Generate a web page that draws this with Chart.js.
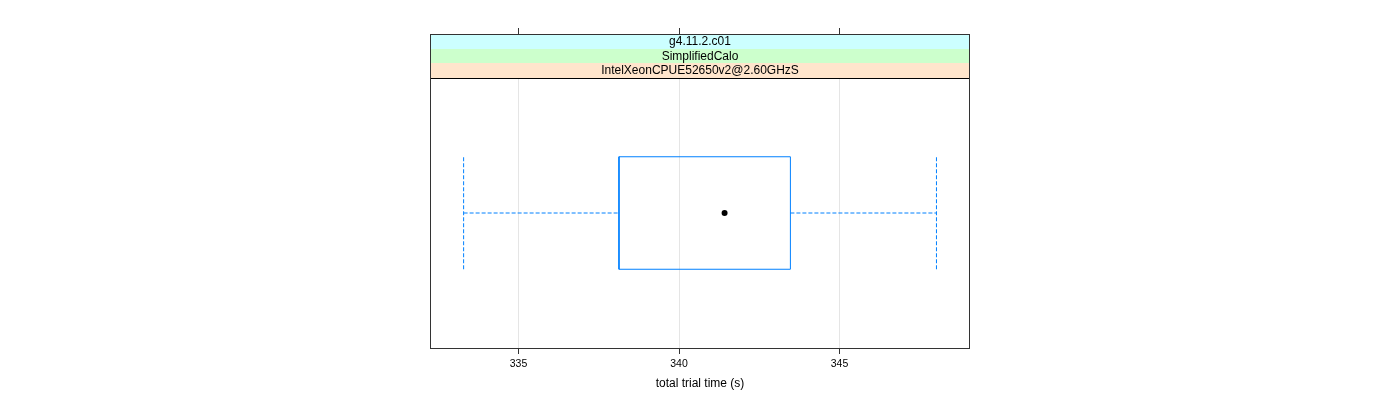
<!DOCTYPE html>
<html>
<head>
<meta charset="utf-8">
<script src="https://cdn.jsdelivr.net/npm/chart.js@4.4.0/dist/chart.umd.min.js"></script>
<style>
  body { margin: 0; background: #fff; }
  canvas { display: block; }
</style>
</head>
<body>
<canvas id="bwChart" width="1400" height="400"></canvas>
<script>
// strip labels, top to bottom
var strips = ['g4.11.2.c01', 'SimplifiedCalo', 'IntelXeonCPUE52650v2@2.60GHzS'];
var stripColors = ['#ccffff', '#ccffcc', '#ffe5cc'];
// lower whisker, q1, median, q3, upper whisker
var fiveNum = [333.29, 338.13, 341.42, 343.47, 348.02];
var xTicks = [335, 340, 345];
var xRange = [332.243, 349.065];
var level = 1;      // single box, sits at y = 1
var halfBox = 0.25;

Chart.defaults.font.family = '"Liberation Sans", Arial, sans-serif';
Chart.defaults.color = '#000';

var boxColor = '#0080ff';

function seg(points, dashed) {
  return {
    data: points,
    showLine: true,
    pointRadius: 0,
    borderColor: boxColor,
    borderWidth: 1,
    borderDash: dashed ? [4, 2] : [],
    fill: false
  };
}

var lo = fiveNum[0], q1 = fiveNum[1], med = fiveNum[2], q3 = fiveNum[3], hi = fiveNum[4];

var datasets = [
  seg([{x: q1, y: level - halfBox}, {x: q3, y: level - halfBox}, {x: q3, y: level + halfBox},
       {x: q1, y: level + halfBox}, {x: q1, y: level - halfBox}], false),
  seg([{x: lo, y: level}, {x: q1, y: level}], true),
  seg([{x: q3, y: level}, {x: hi, y: level}], true),
  seg([{x: lo, y: level - halfBox}, {x: lo, y: level + halfBox}], true),
  seg([{x: hi, y: level - halfBox}, {x: hi, y: level + halfBox}], true),
  {
    data: [{x: med, y: level}],
    pointRadius: 3,
    pointBackgroundColor: '#000',
    pointBorderWidth: 0
  }
];

// strips above the panel, frame and top ticks
var stripPlugin = {
  id: 'strips',
  afterDraw: function(chart) {
    var ctx = chart.ctx;
    var a = chart.chartArea;
    var xs = chart.scales.x;
    var h = 44 / strips.length;
    var top = a.top - 44;
    ctx.save();
    for (var i = 0; i < strips.length; i++) {
      var y0 = Math.round(top + i * h);
      var y1 = Math.round(top + (i + 1) * h);
      ctx.fillStyle = stripColors[i];
      ctx.fillRect(a.left, y0, a.right - a.left, y1 - y0);
      ctx.strokeStyle = '#000';
      ctx.lineWidth = 1;
      ctx.beginPath();
      ctx.moveTo(a.left, y1 + 0.5);
      ctx.lineTo(a.right, y1 + 0.5);
      ctx.stroke();
      ctx.fillStyle = '#000';
      ctx.font = '12px "Liberation Sans", Arial, sans-serif';
      ctx.textAlign = 'center';
      ctx.textBaseline = 'middle';
      ctx.fillText(strips[i], (a.left + a.right) / 2, (y0 + y1) / 2 + 0.5);
    }
    // frame
    ctx.strokeStyle = '#333';
    ctx.strokeRect(a.left + 0.5, top + 0.5, a.right - a.left - 1, a.bottom - top);
    // top ticks
    ctx.beginPath();
    xTicks.forEach(function(v) {
      var px = Math.floor(xs.getPixelForValue(v)) + 0.5;
      ctx.moveTo(px, top - 6);
      ctx.lineTo(px, top);
    });
    ctx.stroke();
    ctx.restore();
  }
};

new Chart(document.getElementById('bwChart'), {
  type: 'scatter',
  data: { datasets: datasets },
  options: {
    responsive: false,
    animation: false,
    layout: { padding: { left: 430, right: 430, top: 78, bottom: 0 }, autoPadding: false },
    scales: {
      x: {
        type: 'linear',
        min: xRange[0],
        max: xRange[1],
        afterBuildTicks: function(s) {
          s.ticks = xTicks.map(function(v) { return { value: v }; });
        },
        afterFit: function(s) { s.height = 52; },
        grid: { color: '#e5e5e5', tickColor: '#333', tickLength: 6 },
        border: { display: false },
        ticks: { font: { size: 10.5 }, padding: 4, maxRotation: 0 },
        title: {
          display: true,
          text: 'total trial time (s)',
          font: { size: 12 },
          padding: { top: 0, bottom: 9 }
        }
      },
      y: {
        display: false,
        min: 0.4,
        max: 1.6
      }
    },
    plugins: {
      legend: { display: false },
      tooltip: { enabled: false }
    }
  },
  plugins: [stripPlugin]
});
</script>
</body>
</html>
